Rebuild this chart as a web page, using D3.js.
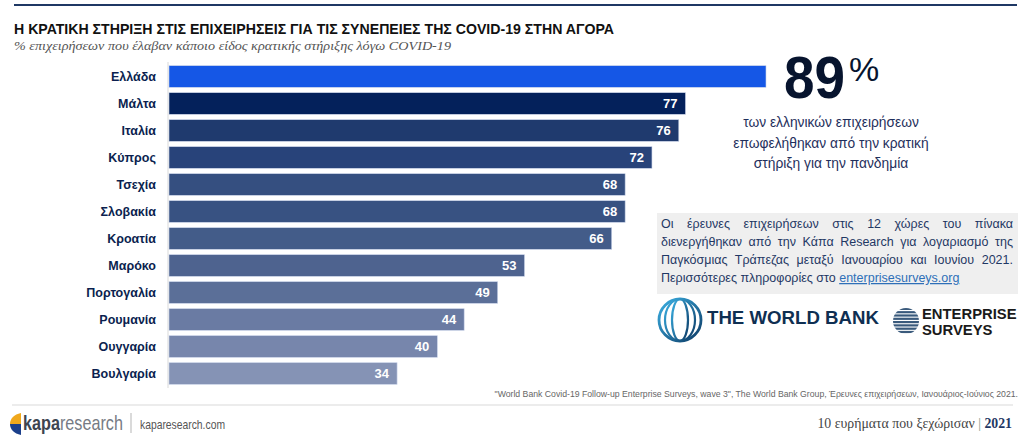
<!DOCTYPE html>
<html>
<head>
<meta charset="utf-8">
<script src="https://cdn.jsdelivr.net/npm/d3@7"></script>
<style>
  html, body { margin: 0; padding: 0; background: #fff; }
  svg { display: block; }
</style>
</head>
<body>
<svg id="chart" width="1024" height="441"></svg>
<script>
const countries = ["Ελλάδα", "Μάλτα", "Ιταλία", "Κύπρος", "Τσεχία", "Σλοβακία", "Κροατία", "Μαρόκο", "Πορτογαλία", "Ρουμανία", "Ουγγαρία", "Βουλγαρία"];
const values = [89, 77, 76, 72, 68, 68, 66, 53, 49, 44, 40, 34];
const barColors = ["#1557e6", "#04215b", "#1f3a6e", "#28437a", "#354f80", "#385282", "#435c89", "#4e638f", "#5b6f98", "#6a7ba3", "#7786ac", "#8593b5"];
const showLabel = [false, true, true, true, true, true, true, true, true, true, true, true];

const calloutLines = ["των ελληνικών επιχειρήσεων", "επωφελήθηκαν από την κρατική", "στήριξη για την πανδημία"];
const noteLines = [
  "Οι έρευνες επιχειρήσεων στις 12 χώρες του πίνακα",
  "διενεργήθηκαν από την Κάπα Research για λογαριασμό της",
  "Παγκόσμιας Τράπεζας μεταξύ Ιανουαρίου και Ιουνίου 2021."
];

const navy = "#0b1f4f";
const sans = "Liberation Sans, Arial, sans-serif";
const narrow = "Liberation Sans Narrow, Arial Narrow, Liberation Sans, sans-serif";
const serif = "Liberation Serif, Times New Roman, serif";
const svg = d3.select("#chart");

// top rule + titles
svg.append("line")
  .attr("x1", 14).attr("x2", 1017).attr("y1", 5).attr("y2", 5)
  .attr("stroke", "#1f3864").attr("stroke-width", 2);

svg.append("text")
  .attr("x", 14).attr("y", 34)
  .attr("textLength", 600).attr("lengthAdjust", "spacingAndGlyphs")
  .style("font-family", sans)
  .style("font-weight", "bold").style("font-size", "15.5px")
  .attr("fill", "#111")
  .text("Η ΚΡΑΤΙΚΗ ΣΤΗΡΙΞΗ ΣΤΙΣ ΕΠΙΧΕΙΡΗΣΕΙΣ ΓΙΑ ΤΙΣ ΣΥΝΕΠΕΙΕΣ ΤΗΣ COVID-19 ΣΤΗΝ ΑΓΟΡΑ");

svg.append("text")
  .attr("x", 14).attr("y", 50)
  .attr("textLength", 437).attr("lengthAdjust", "spacingAndGlyphs")
  .style("font-family", serif)
  .style("font-style", "italic").style("font-size", "13.5px")
  .attr("fill", "#555")
  .text("% επιχειρήσεων που έλαβαν κάποιο είδος κρατικής στήριξης λόγω COVID-19");

// bar chart
const x = d3.scaleLinear().domain([0, 89]).range([169, 766]);
const y = d3.scaleBand().domain(countries).range([63, 387]).paddingInner(0.2).paddingOuter(0.1);

const chart = svg.append("g");

chart.append("line")
  .attr("x1", 168).attr("x2", 168).attr("y1", 62).attr("y2", 388)
  .attr("stroke", "#d9d9d9").attr("stroke-width", 1);

chart.selectAll(".bar")
  .data(countries)
  .enter().append("rect")
  .attr("class", "bar")
  .attr("x", x(0))
  .attr("y", d => y(d))
  .attr("width", (d, i) => x(values[i]) - x(0))
  .attr("height", y.bandwidth())
  .attr("fill", (d, i) => barColors[i])
  .attr("stroke", "#c9d3e8").attr("stroke-width", 0.6);

const yAxis = chart.append("g")
  .attr("transform", "translate(156,0)")
  .call(d3.axisLeft(y).tickSize(0).tickPadding(0));
yAxis.select(".domain").remove();
yAxis.selectAll("text")
  .style("font-family", sans)
  .style("font-weight", "bold").style("font-size", "12.5px")
  .attr("fill", navy);

chart.selectAll(".val")
  .data(countries.filter((d, i) => showLabel[i]))
  .enter().append("text")
  .attr("class", "val")
  .attr("x", d => x(values[countries.indexOf(d)]) - 8)
  .attr("y", d => y(d) + y.bandwidth() / 2)
  .attr("dy", "0.36em")
  .attr("text-anchor", "end")
  .style("font-family", narrow)
  .style("font-weight", "bold").style("font-size", "13px")
  .attr("fill", "#fff")
  .text(d => values[countries.indexOf(d)]);

// callout
svg.append("text")
  .attr("x", 784).attr("y", 98)
  .attr("textLength", 61).attr("lengthAdjust", "spacingAndGlyphs")
  .style("font-family", sans)
  .style("font-weight", "bold").style("font-size", "59px")
  .attr("fill", "#07142e")
  .text(values[0]);
svg.append("text")
  .attr("x", 849).attr("y", 81)
  .style("font-family", sans)
  .style("font-size", "34px")
  .attr("fill", "#07142e")
  .text("%");

svg.selectAll(".callout")
  .data(calloutLines)
  .enter().append("text")
  .attr("class", "callout")
  .attr("x", 831).attr("y", (d, i) => 127 + i * 20.5)
  .attr("text-anchor", "middle")
  .style("font-family", sans)
  .style("font-size", "13.8px")
  .attr("fill", "#1f2f5c")
  .text(d => d);

// note box
svg.append("rect")
  .attr("x", 657).attr("y", 213).attr("width", 361).attr("height", 81)
  .attr("fill", "#efefef");

const noteX = 661, noteW = 352;
svg.selectAll(".note")
  .data(noteLines)
  .enter().append("text")
  .attr("class", "note")
  .attr("x", noteX).attr("y", (d, i) => 228 + i * 18)
  .style("font-family", sans).style("font-size", "12.5px")
  .attr("fill", "#1f3864")
  .text(d => d)
  .each(function(d) {
    // justify by widening the gaps between words
    const natural = this.getComputedTextLength();
    const gaps = d.split(" ").length - 1;
    if (gaps > 0) d3.select(this).style("word-spacing", ((noteW - natural) / gaps) + "px");
  });

const lastNote = svg.append("text")
  .attr("x", noteX).attr("y", 228 + 3 * 18)
  .style("font-family", sans).style("font-size", "12.5px")
  .attr("fill", "#1f3864");
lastNote.append("tspan").text("Περισσότερες πληροφορίες στο ");
lastNote.append("tspan").attr("fill", "#2e6fb8").style("text-decoration", "underline").text("enterprisesurveys.org");

// World Bank logo
const defs = svg.append("defs");
const wbGrad = defs.append("linearGradient").attr("id", "wbg")
  .attr("x1", "0").attr("y1", "0").attr("x2", "1").attr("y2", "1");
wbGrad.append("stop").attr("offset", "0").attr("stop-color", "#3bb0e3");
wbGrad.append("stop").attr("offset", "1").attr("stop-color", "#0d3b66");
const wb = svg.append("g").attr("transform", "translate(680,320)");
wb.append("circle").attr("r", 21).attr("fill", "none").attr("stroke", "url(#wbg)").attr("stroke-width", 2.8);
[8, 15].forEach(rx => {
  wb.append("ellipse").attr("rx", rx).attr("ry", 21).attr("fill", "none").attr("stroke", "url(#wbg)").attr("stroke-width", 2.2);
});
[-11, 0, 11].forEach(cy => {
  const hw = Math.sqrt(441 - cy * cy);
  wb.append("line").attr("x1", -hw).attr("x2", hw).attr("y1", cy).attr("y2", cy)
    .attr("stroke", "url(#wbg)").attr("stroke-width", 2.2);
});
svg.append("text")
  .attr("x", 707).attr("y", 324)
  .attr("textLength", 172).attr("lengthAdjust", "spacingAndGlyphs")
  .style("font-family", sans)
  .style("font-weight", "bold").style("font-size", "17.5px")
  .attr("fill", "#0f2f52")
  .text("THE WORLD BANK");

// Enterprise Surveys logo
const es = svg.append("g").attr("transform", "translate(906,321)");
es.append("circle").attr("r", 13).attr("fill", "#3a5a7c");
d3.range(-11, 13, 3.3).forEach(cy => {
  es.append("rect").attr("x", -14).attr("y", cy).attr("width", 28).attr("height", 1.1).attr("fill", "#fff");
});
svg.append("text").attr("x", 922).attr("y", 319)
  .style("font-family", sans)
  .style("font-weight", "bold").style("font-size", "14.8px").attr("fill", "#1a1a1a")
  .text("ENTERPRISE");
svg.append("text").attr("x", 922).attr("y", 335)
  .style("font-family", sans)
  .style("font-weight", "bold").style("font-size", "14.8px").attr("fill", "#1a1a1a")
  .text("SURVEYS");

// source note
svg.append("text")
  .attr("x", 1018).attr("y", 397)
  .attr("text-anchor", "end")
  .style("font-family", narrow)
  .style("font-size", "8.7px")
  .attr("fill", "#666")
  .text("\"World Bank Covid-19 Follow-up Enterprise Surveys, wave 3\", The World Bank Group, Έρευνες επιχειρήσεων, Ιανουάριος-Ιούνιος 2021.");

// footer
svg.append("line")
  .attr("x1", 12).attr("x2", 1013).attr("y1", 405).attr("y2", 405)
  .attr("stroke", "#e6e6e6").attr("stroke-width", 1.5);

const kapa = svg.append("g").attr("transform", "translate(10,413)");
kapa.append("path").attr("d", "M11,0 C4,1.5 0,5.5 0,11 L11,11 Z").attr("fill", "#f0a81c");
kapa.append("path").attr("d", "M0,11 C0,16.5 4,20.5 11,22 L11,11 Z").attr("fill", "#1b3f8b");

// brand wordmark squeezed horizontally to the reference width
const brandG = svg.append("g");
const brand = brandG.append("text")
  .style("font-family", sans).style("font-size", "20px");
brand.append("tspan").style("font-weight", "bold").attr("fill", "#3d4450").text("kapa");
brand.append("tspan").attr("fill", "#767b84").text("research");
const brandW = brand.node().getComputedTextLength();
brandG.attr("transform", `translate(23,430) scale(${100 / brandW},1)`);

svg.append("line")
  .attr("x1", 131).attr("x2", 131).attr("y1", 413).attr("y2", 433)
  .attr("stroke", "#b5b5b5").attr("stroke-width", 1);

svg.append("text")
  .attr("x", 140).attr("y", 429)
  .attr("textLength", 85).attr("lengthAdjust", "spacingAndGlyphs")
  .style("font-family", narrow)
  .style("font-size", "13px")
  .attr("fill", "#555")
  .text("kaparesearch.com");

const foot = svg.append("text")
  .attr("x", 1012).attr("y", 428)
  .attr("text-anchor", "end")
  .style("font-family", serif)
  .style("font-size", "13.8px")
  .attr("fill", "#444");
foot.append("tspan").text("10 ευρήματα που ξεχώρισαν ");
foot.append("tspan").attr("fill", "#7a9a8a").text("| ");
foot.append("tspan").attr("fill", "#1f3864").style("font-weight", "bold").text("2021");
</script>
</body>
</html>
